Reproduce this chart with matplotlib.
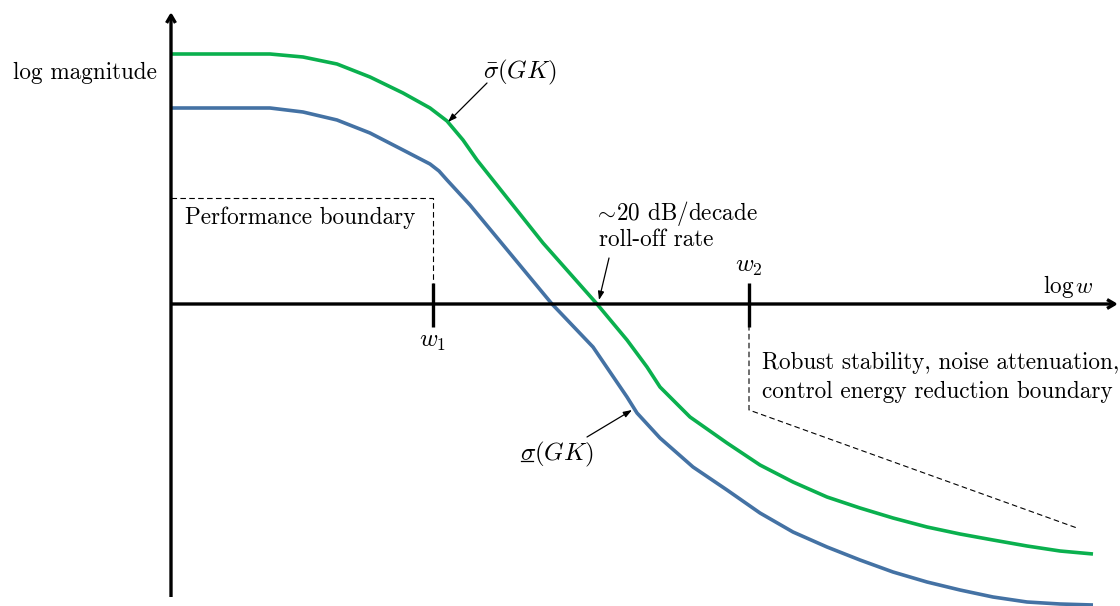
import matplotlib
matplotlib.use("Agg")
import matplotlib.pyplot as plt

plt.rcParams["font.family"] = ["cmr10", "DejaVu Serif"]
plt.rcParams["mathtext.fontset"] = "cm"
plt.rcParams["axes.formatter.use_mathtext"] = True

# log-frequency (x) and log-magnitude (y) in schematic units, origin at the axes crossing
sigma_max_x = [0.00, 0.49, 0.99, 1.32, 1.66, 1.99, 2.32, 2.59, 2.76, 2.92, 3.06,
               3.72, 4.26, 4.56, 4.76, 4.89, 5.19, 5.56, 5.89, 6.22, 6.56, 6.89,
               7.22, 7.56, 7.89, 8.22, 8.56, 8.89, 9.22]
sigma_max_y = [2.50, 2.50, 2.50, 2.47, 2.40, 2.27, 2.11, 1.96, 1.83, 1.64, 1.44,
               0.61, 0.00, -0.36, -0.63, -0.83, -1.13, -1.39, -1.61, -1.78, -1.93,
               -2.04, -2.14, -2.23, -2.30, -2.36, -2.42, -2.47, -2.50]

sigma_min_x = [0.00, 0.49, 0.99, 1.32, 1.66, 1.99, 2.32, 2.59, 2.68, 2.76, 2.99,
               3.81, 4.22, 4.56, 4.66, 4.89, 5.22, 5.56, 5.89, 6.22, 6.56, 6.89,
               7.22, 7.56, 7.89, 8.22, 8.56, 8.89, 9.22]
sigma_min_y = [1.96, 1.96, 1.96, 1.92, 1.84, 1.71, 1.54, 1.40, 1.33, 1.24, 0.99,
               0.00, -0.43, -0.93, -1.09, -1.34, -1.63, -1.86, -2.09, -2.28, -2.43,
               -2.56, -2.68, -2.78, -2.86, -2.93, -2.98, -3.00, -3.01]

# frequency markers
w1 = 2.62
w2 = 5.78
tick_labels = ["$w_1$", "$w_2$"]

# performance boundary (low frequency) and robustness boundary (high frequency)
perf_x = [0.00, w1, w1]
perf_y = [1.06, 1.06, 0.21]
robust_x = [w2, w2, 9.06]
robust_y = [-0.21, -1.06, -2.24]

GREEN = "#0AB04E"
BLUE = "#4472A4"
FS = 16.7
FS_MATH = 18

fig = plt.figure(figsize=(11.2, 6.06), dpi=100)
ax = fig.add_axes([0, 0, 1, 1])
ax.set_xlim(-1.71, 9.49)
ax.set_ylim(-3.02, 3.04)
ax.axis("off")

# coordinate axes with open arrow heads
axis_arrow = dict(arrowstyle="->,head_length=0.55,head_width=0.32", lw=2.4,
                  color="black", shrinkA=0, shrinkB=0, capstyle="butt")
ax.annotate("", xy=(0, 2.92), xytext=(0, -2.93), arrowprops=axis_arrow)
ax.annotate("", xy=(9.47, 0), xytext=(0, 0), arrowprops=axis_arrow)

# tick marks at w1 and w2
for w in [w1, w2]:
    ax.plot([w, w], [0.21, -0.23], color="black", lw=2.4, solid_capstyle="butt")
ax.text(w1, -0.38, tick_labels[0], fontsize=FS_MATH, ha="center", va="center")
ax.text(w2, 0.37, tick_labels[1], fontsize=FS_MATH, ha="center", va="center")

# boundaries
ax.plot(perf_x, perf_y, color="black", lw=0.8, dashes=(5, 3))
ax.plot(robust_x, robust_y, color="black", lw=0.8, dashes=(5, 3))

# singular value curves
ax.plot(sigma_max_x, sigma_max_y, color=GREEN, lw=2.6, solid_joinstyle="round",
        solid_capstyle="butt")
ax.plot(sigma_min_x, sigma_min_y, color=BLUE, lw=2.6, solid_joinstyle="round",
        solid_capstyle="butt")

# labels
ax.text(-0.86, 2.31, "log magnitude", fontsize=FS, ha="center", va="center")
ax.text(8.97, 0.17, r"$\log w$", fontsize=FS, ha="center", va="center")
ax.text(0.14, 0.86, "Performance boundary", fontsize=FS, ha="left", va="center")
ax.text(4.26, 0.90, r"$\!\sim\!$20 dB/decade", fontsize=FS, ha="left", va="center")
ax.text(4.28, 0.64, "roll-off rate", fontsize=FS, ha="left", va="center")
ax.text(5.91, -0.59, "Robust stability, noise attenuation,", fontsize=FS,
        ha="left", va="center")
ax.text(5.91, -0.88, "control energy reduction boundary", fontsize=FS,
        ha="left", va="center")

# curve annotations
small_arrow = dict(arrowstyle="-|>,head_length=0.5,head_width=0.18", lw=0.9,
                   color="black", shrinkA=0, shrinkB=0)
ax.text(3.49, 2.32, r"$\bar{\sigma}(GK)$", fontsize=FS_MATH, ha="center", va="center")
ax.annotate("", xy=(2.77, 1.82), xytext=(3.16, 2.21), arrowprops=small_arrow)

ax.text(3.49, -1.50, r"$\sigma(GK)$", fontsize=FS_MATH, ha="left", va="center")
ax.plot([3.50, 3.62], [-1.57, -1.57], color="black", lw=0.9)
ax.annotate("", xy=(4.61, -1.06), xytext=(4.16, -1.33), arrowprops=small_arrow)

ax.annotate("", xy=(4.28, 0.04), xytext=(4.38, 0.46), arrowprops=small_arrow)

fig.savefig("out.png", dpi=100)
